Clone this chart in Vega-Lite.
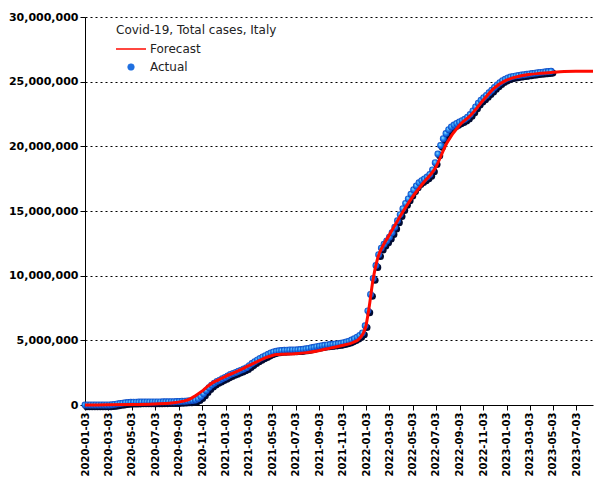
{
  "$schema": "https://vega.github.io/schema/vega-lite/v6.json",
  "width": 508,
  "height": 388,
  "autosize": {"type": "none"},
  "padding": {"left": 85, "top": 17, "right": 12, "bottom": 75},
  "background": "white",
  "datasets": {
    "actual": [
      {"d":"2020-01-03","v":0},{"d":"2020-01-10","v":0},{"d":"2020-01-17","v":0},{"d":"2020-01-24","v":0},{"d":"2020-01-31","v":3},
      {"d":"2020-02-07","v":3},{"d":"2020-02-14","v":3},{"d":"2020-02-21","v":20},{"d":"2020-02-28","v":888},
      {"d":"2020-03-06","v":4636},{"d":"2020-03-13","v":17660},{"d":"2020-03-20","v":47021},{"d":"2020-03-27","v":86498},
      {"d":"2020-04-03","v":119827},{"d":"2020-04-10","v":147577},{"d":"2020-04-17","v":172434},{"d":"2020-04-24","v":192994},
      {"d":"2020-05-01","v":207428},{"d":"2020-05-08","v":217185},{"d":"2020-05-15","v":223885},{"d":"2020-05-22","v":228658},{"d":"2020-05-29","v":231732},
      {"d":"2020-06-05","v":234531},{"d":"2020-06-12","v":236305},{"d":"2020-06-19","v":238011},{"d":"2020-06-26","v":239706},
      {"d":"2020-07-03","v":241419},{"d":"2020-07-10","v":242639},{"d":"2020-07-17","v":244216},{"d":"2020-07-24","v":245590},{"d":"2020-07-31","v":247537},
      {"d":"2020-08-07","v":249756},{"d":"2020-08-14","v":252809},{"d":"2020-08-21","v":257624},{"d":"2020-08-28","v":264436},
      {"d":"2020-09-04","v":273636},{"d":"2020-09-11","v":284796},{"d":"2020-09-18","v":296569},{"d":"2020-09-25","v":308104},
      {"d":"2020-10-02","v":322751},{"d":"2020-10-09","v":343770},{"d":"2020-10-16","v":391611},{"d":"2020-10-23","v":484869},{"d":"2020-10-30","v":647674},
      {"d":"2020-11-06","v":862681},{"d":"2020-11-13","v":1107303},{"d":"2020-11-20","v":1345767},{"d":"2020-11-27","v":1538217},
      {"d":"2020-12-04","v":1688939},{"d":"2020-12-11","v":1825775},{"d":"2020-12-18","v":1921778},{"d":"2020-12-25","v":2028354},
      {"d":"2021-01-01","v":2129376},{"d":"2021-01-08","v":2237890},{"d":"2021-01-15","v":2352423},{"d":"2021-01-22","v":2441854},{"d":"2021-01-29","v":2515507},
      {"d":"2021-02-05","v":2611659},{"d":"2021-02-12","v":2697296},{"d":"2021-02-19","v":2786838},{"d":"2021-02-26","v":2888923},
      {"d":"2021-03-05","v":3046762},{"d":"2021-03-12","v":3201838},{"d":"2021-03-19","v":3344620},{"d":"2021-03-26","v":3488619},
      {"d":"2021-04-02","v":3607083},{"d":"2021-04-09","v":3717602},{"d":"2021-04-16","v":3809193},{"d":"2021-04-23","v":3920945},{"d":"2021-04-30","v":4022653},
      {"d":"2021-05-07","v":4102921},{"d":"2021-05-14","v":4153374},{"d":"2021-05-21","v":4189548},{"d":"2021-05-28","v":4213055},
      {"d":"2021-06-04","v":4230153},{"d":"2021-06-11","v":4243482},{"d":"2021-06-18","v":4252976},{"d":"2021-06-25","v":4258456},
      {"d":"2021-07-02","v":4262511},{"d":"2021-07-09","v":4269885},{"d":"2021-07-16","v":4284332},{"d":"2021-07-23","v":4310000},{"d":"2021-07-30","v":4343000},
      {"d":"2021-08-06","v":4380000},{"d":"2021-08-13","v":4422000},{"d":"2021-08-20","v":4460000},{"d":"2021-08-27","v":4507000},
      {"d":"2021-09-03","v":4550000},{"d":"2021-09-10","v":4587000},{"d":"2021-09-17","v":4618000},{"d":"2021-09-24","v":4648000},
      {"d":"2021-10-01","v":4672000},{"d":"2021-10-08","v":4693000},{"d":"2021-10-15","v":4713000},{"d":"2021-10-22","v":4740000},{"d":"2021-10-29","v":4770000},
      {"d":"2021-11-05","v":4815000},{"d":"2021-11-12","v":4870000},{"d":"2021-11-19","v":4940000},{"d":"2021-11-26","v":5020000},
      {"d":"2021-12-03","v":5125000},{"d":"2021-12-10","v":5245000},{"d":"2021-12-17","v":5380000},{"d":"2021-12-24","v":5570000},{"d":"2021-12-31","v":6126000},
      {"d":"2022-01-07","v":7280000},{"d":"2022-01-14","v":8550000},{"d":"2022-01-21","v":9780000},{"d":"2022-01-28","v":10780000},
      {"d":"2022-02-04","v":11620000},{"d":"2022-02-11","v":12130000},{"d":"2022-02-18","v":12430000},{"d":"2022-02-25","v":12690000},
      {"d":"2022-03-04","v":12970000},{"d":"2022-03-11","v":13320000},{"d":"2022-03-18","v":13750000},{"d":"2022-03-25","v":14240000},
      {"d":"2022-04-01","v":14720000},{"d":"2022-04-08","v":15180000},{"d":"2022-04-15","v":15590000},{"d":"2022-04-22","v":15940000},{"d":"2022-04-29","v":16300000},
      {"d":"2022-05-06","v":16640000},{"d":"2022-05-13","v":16940000},{"d":"2022-05-20","v":17180000},{"d":"2022-05-27","v":17350000},
      {"d":"2022-06-03","v":17480000},{"d":"2022-06-10","v":17630000},{"d":"2022-06-17","v":17830000},{"d":"2022-06-24","v":18180000},
      {"d":"2022-07-01","v":18740000},{"d":"2022-07-08","v":19410000},{"d":"2022-07-15","v":20060000},{"d":"2022-07-22","v":20590000},{"d":"2022-07-29","v":20990000},
      {"d":"2022-08-05","v":21290000},{"d":"2022-08-12","v":21500000},{"d":"2022-08-19","v":21650000},{"d":"2022-08-26","v":21760000},
      {"d":"2022-09-02","v":21880000},{"d":"2022-09-09","v":21990000},{"d":"2022-09-16","v":22100000},{"d":"2022-09-23","v":22250000},{"d":"2022-09-30","v":22460000},
      {"d":"2022-10-07","v":22740000},{"d":"2022-10-14","v":23050000},{"d":"2022-10-21","v":23340000},{"d":"2022-10-28","v":23570000},
      {"d":"2022-11-04","v":23750000},{"d":"2022-11-11","v":23940000},{"d":"2022-11-18","v":24140000},{"d":"2022-11-25","v":24340000},
      {"d":"2022-12-02","v":24550000},{"d":"2022-12-09","v":24750000},{"d":"2022-12-16","v":24920000},{"d":"2022-12-23","v":25070000},{"d":"2022-12-30","v":25190000},
      {"d":"2023-01-06","v":25290000},{"d":"2023-01-13","v":25360000},{"d":"2023-01-20","v":25410000},{"d":"2023-01-27","v":25450000},
      {"d":"2023-02-03","v":25480000},{"d":"2023-02-10","v":25510000},{"d":"2023-02-17","v":25540000},{"d":"2023-02-24","v":25570000},
      {"d":"2023-03-03","v":25600000},{"d":"2023-03-10","v":25630000},{"d":"2023-03-17","v":25660000},{"d":"2023-03-24","v":25690000},{"d":"2023-03-31","v":25720000},
      {"d":"2023-04-07","v":25740000},{"d":"2023-04-14","v":25760000},{"d":"2023-04-21","v":25780000},{"d":"2023-04-28","v":25800000}
    ],
    "forecast": [
      {"d":"2020-01-03","v":0,"s":"Forecast"},{"d":"2020-03-01","v":10000,"s":"Forecast"},{"d":"2020-05-01","v":30000,"s":"Forecast"},
      {"d":"2020-07-01","v":80000,"s":"Forecast"},{"d":"2020-08-15","v":150000,"s":"Forecast"},{"d":"2020-09-15","v":300000,"s":"Forecast"},
      {"d":"2020-10-01","v":450000,"s":"Forecast"},{"d":"2020-10-15","v":700000,"s":"Forecast"},{"d":"2020-11-01","v":1050000,"s":"Forecast"},
      {"d":"2020-11-15","v":1400000,"s":"Forecast"},{"d":"2020-12-01","v":1750000,"s":"Forecast"},{"d":"2020-12-15","v":1950000,"s":"Forecast"},
      {"d":"2021-01-01","v":2200000,"s":"Forecast"},{"d":"2021-02-01","v":2600000,"s":"Forecast"},{"d":"2021-03-01","v":3000000,"s":"Forecast"},
      {"d":"2021-04-01","v":3450000,"s":"Forecast"},{"d":"2021-04-15","v":3650000,"s":"Forecast"},{"d":"2021-05-01","v":3800000,"s":"Forecast"},
      {"d":"2021-05-15","v":3900000,"s":"Forecast"},{"d":"2021-06-01","v":3930000,"s":"Forecast"},{"d":"2021-07-01","v":3970000,"s":"Forecast"},
      {"d":"2021-08-01","v":4050000,"s":"Forecast"},{"d":"2021-09-01","v":4200000,"s":"Forecast"},{"d":"2021-10-01","v":4400000,"s":"Forecast"},
      {"d":"2021-11-01","v":4600000,"s":"Forecast"},{"d":"2021-12-01","v":4850000,"s":"Forecast"},{"d":"2021-12-15","v":5100000,"s":"Forecast"},
      {"d":"2022-01-01","v":6000000,"s":"Forecast"},{"d":"2022-01-10","v":7500000,"s":"Forecast"},{"d":"2022-01-20","v":9600000,"s":"Forecast"},
      {"d":"2022-02-01","v":11300000,"s":"Forecast"},{"d":"2022-02-15","v":12300000,"s":"Forecast"},{"d":"2022-03-01","v":13000000,"s":"Forecast"},
      {"d":"2022-04-01","v":14600000,"s":"Forecast"},{"d":"2022-05-01","v":16000000,"s":"Forecast"},{"d":"2022-06-01","v":17200000,"s":"Forecast"},
      {"d":"2022-07-01","v":18300000,"s":"Forecast"},{"d":"2022-08-01","v":20300000,"s":"Forecast"},{"d":"2022-09-01","v":21600000,"s":"Forecast"},
      {"d":"2022-10-01","v":22400000,"s":"Forecast"},{"d":"2022-11-01","v":23500000,"s":"Forecast"},{"d":"2022-12-01","v":24500000,"s":"Forecast"},
      {"d":"2023-01-01","v":25100000,"s":"Forecast"},{"d":"2023-02-01","v":25400000,"s":"Forecast"},{"d":"2023-03-01","v":25550000,"s":"Forecast"},
      {"d":"2023-04-01","v":25650000,"s":"Forecast"},{"d":"2023-05-01","v":25720000,"s":"Forecast"},{"d":"2023-06-01","v":25780000,"s":"Forecast"},
      {"d":"2023-07-01","v":25800000,"s":"Forecast"},{"d":"2023-08-15","v":25800000,"s":"Forecast"}
    ]
  },
  "encoding": {
    "x": {
      "field": "d", "type": "temporal", "title": null,
      "scale": {"type": "utc", "domain": [{"year":2020,"month":1,"date":3,"utc":true},{"year":2023,"month":8,"date":15,"utc":true}]},
      "axis": {
        "values": [
          {"year":2020,"month":1,"date":3,"utc":true},{"year":2020,"month":3,"date":3,"utc":true},{"year":2020,"month":5,"date":3,"utc":true},
          {"year":2020,"month":7,"date":3,"utc":true},{"year":2020,"month":9,"date":3,"utc":true},{"year":2020,"month":11,"date":3,"utc":true},
          {"year":2021,"month":1,"date":3,"utc":true},{"year":2021,"month":3,"date":3,"utc":true},{"year":2021,"month":5,"date":3,"utc":true},
          {"year":2021,"month":7,"date":3,"utc":true},{"year":2021,"month":9,"date":3,"utc":true},{"year":2021,"month":11,"date":3,"utc":true},
          {"year":2022,"month":1,"date":3,"utc":true},{"year":2022,"month":3,"date":3,"utc":true},{"year":2022,"month":5,"date":3,"utc":true},
          {"year":2022,"month":7,"date":3,"utc":true},{"year":2022,"month":9,"date":3,"utc":true},{"year":2022,"month":11,"date":3,"utc":true},
          {"year":2023,"month":1,"date":3,"utc":true},{"year":2023,"month":3,"date":3,"utc":true},{"year":2023,"month":5,"date":3,"utc":true},
          {"year":2023,"month":7,"date":3,"utc":true}
        ],
        "format": "%Y-%m-%d", "labelAngle": -90, "grid": false,
        "labelFont": "DejaVu Sans", "labelFontWeight": "bold", "labelFontSize": 10, "labelColor": "black",
        "domainColor": "black", "tickColor": "black", "tickSize": 5, "labelPadding": 2, "labelOverlap": false, "labelFlush": false
      }
    },
    "y": {
      "field": "v", "type": "quantitative", "title": null,
      "scale": {"domain": [0, 30000000], "nice": false},
      "axis": {
        "values": [0, 5000000, 10000000, 15000000, 20000000, 25000000, 30000000],
        "format": ",d", "grid": true, "gridColor": "black", "gridDash": [2, 3], "gridWidth": 1,
        "labelFont": "DejaVu Sans", "labelFontWeight": "bold", "labelFontSize": 11, "labelColor": "black",
        "domainColor": "black", "tickColor": "black", "tickSize": 5, "labelPadding": 2
      }
    }
  },
  "layer": [
    {
      "data": {"name": "actual"},
      "mark": {"type": "point", "filled": true, "size": 50, "opacity": 1, "color": "#000a30", "xOffset": 1.8, "yOffset": 1.8},
      "encoding": {}
    },
    {
      "data": {"name": "actual"},
      "mark": {
        "type": "point", "filled": true, "size": 48, "opacity": 1,
        "color": {"gradient": "radial", "x1": 0.4, "y1": 0.35, "r1": 0, "x2": 0.5, "y2": 0.5, "r2": 0.55,
          "stops": [{"offset": 0, "color": "#a8f0ff"}, {"offset": 0.45, "color": "#1f8af5"}, {"offset": 1, "color": "#0a30b0"}]}
      },
      "encoding": {}
    },
    {
      "data": {"name": "forecast"},
      "mark": {"type": "line", "strokeWidth": 3, "interpolate": "monotone"},
      "encoding": {
        "color": {
          "field": "s", "type": "nominal",
          "scale": {"domain": ["Forecast", "Actual"], "range": ["#ff0a00", "#1f6fe0"]},
          "legend": {
            "title": "Covid-19, Total cases, Italy",
            "orient": "none", "legendX": 31, "legendY": 8,
            "titleFont": "DejaVu Sans", "titleFontWeight": "normal", "titleFontSize": 12, "titleColor": "#222222",
            "titlePadding": 6,
            "labelFont": "DejaVu Sans", "labelFontSize": 12, "labelColor": "#222222",
            "symbolSize": 100, "symbolOffset": 9, "labelOffset": 13, "rowPadding": 6,
            "encode": {
              "symbols": {
                "update": {
                  "shape": {"signal": "datum.value === 'Actual' ? 'circle' : 'stroke'"},
                  "fill": {"signal": "datum.value === 'Actual' ? '#1f6fe0' : 'transparent'"},
                  "stroke": {"signal": "datum.value === 'Actual' ? '#0a2c9a' : '#ff3300'"},
                  "strokeWidth": {"signal": "datum.value === 'Actual' ? 0.5 : 1.5"},
                  "size": {"signal": "datum.value === 'Actual' ? 45 : 900"}
                }
              }
            }
          }
        }
      }
    }
  ],
  "config": {"view": {"stroke": null}}
}
